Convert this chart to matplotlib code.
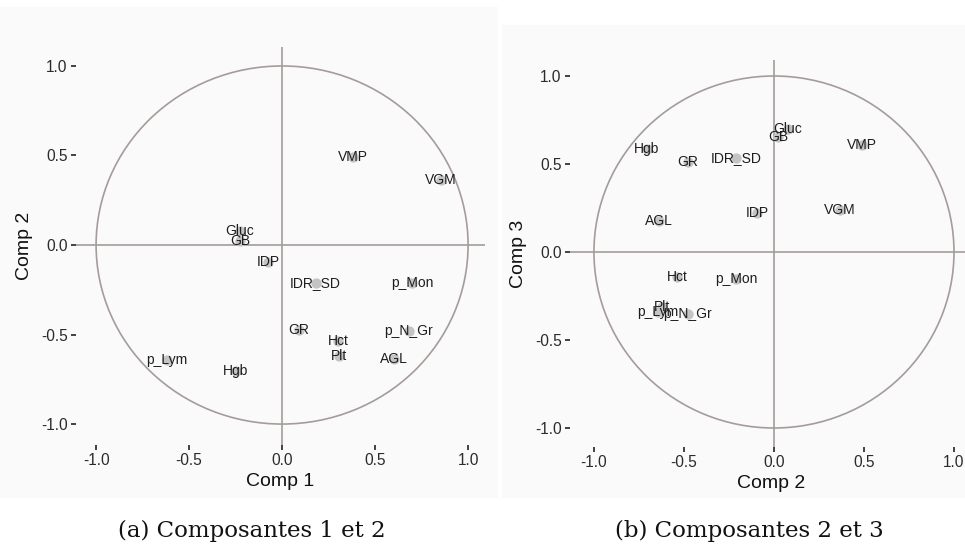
import numpy as np
import matplotlib
matplotlib.use("Agg")
import matplotlib.pyplot as plt
from matplotlib.patches import Circle, Rectangle

# Variable loadings on the first three principal components
variables = ["VMP", "VGM", "Gluc", "GB", "IDP", "IDR_SD", "p_Mon",
             "GR", "Hct", "Plt", "p_N_Gr", "AGL", "p_Lym", "Hgb"]
comp1 = [0.38, 0.855, -0.226, -0.226, -0.075, 0.18, 0.70,
         0.09, 0.30, 0.306, 0.68, 0.60, -0.62, -0.25]
comp2 = [0.49, 0.365, 0.078, 0.025, -0.095, -0.21, -0.21,
         -0.477, -0.538, -0.62, -0.48, -0.638, -0.645, -0.705]
comp3 = [0.61, 0.24, 0.70, 0.655, 0.22, 0.535, -0.155,
         0.51, -0.14, -0.31, -0.35, 0.175, -0.34, 0.585]

ticks = [-1.0, -0.5, 0.0, 0.5, 1.0]
tick_labels = ["-1.0", "-0.5", "0.0", "0.5", "1.0"]

W, H = 965, 548
fig = plt.figure(figsize=(W / 100, H / 100), dpi=100)
plt.rcParams["font.family"] = ["Liberation Sans", "DejaVu Sans"]

# faint backgrounds of the two exported ggplot images
fig.patches.append(Rectangle((0, 1 - 497 / H), 497 / W, 490 / H,
                             transform=fig.transFigure, color="#fafafa", zorder=-5))
fig.patches.append(Rectangle((502 / W, 1 - 497 / H), 463 / W, 472 / H,
                             transform=fig.transFigure, color="#fafafa", zorder=-5))

line_col = "#a59c9a"


def circle_plot(rect, x, y, xlim, ylim, xlabel, ylabel):
    l, r, t, b = rect
    ax = fig.add_axes([l / W, 1 - b / H, (r - l) / W, (b - t) / H])
    ax.set_zorder(2)
    ax.set_facecolor("none")
    ax.add_patch(Circle((0, 0), 1, fill=False, ec=line_col, lw=1.2, zorder=1))
    ax.axhline(0, color=line_col, lw=1.2, zorder=1)
    ax.axvline(0, color=line_col, lw=1.2, zorder=1)
    ax.scatter(x, y, s=55, color="#c4c4c4", lw=0, zorder=2)
    for name, xi, yi in zip(variables, x, y):
        ax.text(xi, yi, name, ha="center", va="center", fontsize=10,
                color="#1e1e1e", zorder=3)
    ax.set_xlim(*xlim)
    ax.set_ylim(*ylim)
    ax.set_xticks(ticks, tick_labels)
    ax.set_yticks(ticks, tick_labels)
    for s in ax.spines.values():
        s.set_visible(False)
    ax.tick_params(length=3.5, width=1.3, color="#333333", labelsize=11.2,
                   labelcolor="#2b2b2b", pad=2.5)
    ax.set_xlabel(xlabel, fontsize=14, color="#111111", labelpad=3)
    ax.set_ylabel(ylabel, fontsize=14, color="#111111", labelpad=6)
    return ax


circle_plot((76, 485, 47, 445), comp1, comp2,
            (-1.108, 1.091), (-1.117, 1.106), "Comp 1", "Comp 2")
circle_plot((570, 972, 60, 447), comp2, comp3,
            (-1.133, 1.10), (-1.108, 1.091), "Comp 2", "Comp 3")

fig.text(252 / W, 1 - 531 / H, "(a) Composantes 1 et 2", ha="center", va="center",
         fontsize=16.5, family="DejaVu Serif", color="#111111")
fig.text(749 / W, 1 - 531 / H, "(b) Composantes 2 et 3", ha="center", va="center",
         fontsize=16.5, family="DejaVu Serif", color="#111111")

fig.savefig("out.png", dpi=100)
